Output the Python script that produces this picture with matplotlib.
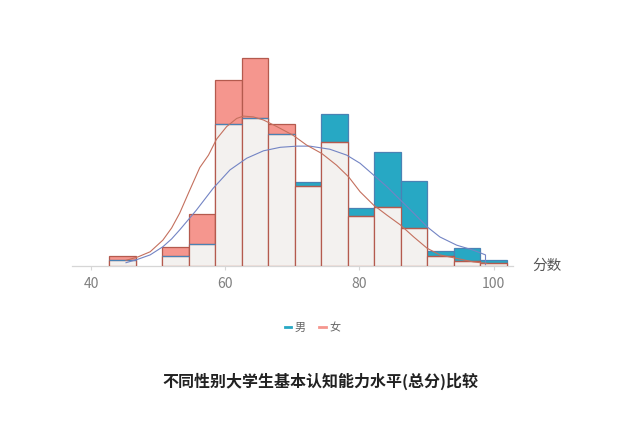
import numpy as np
import matplotlib
matplotlib.use("Agg")
import matplotlib.pyplot as plt
from matplotlib.lines import Line2D

plt.rcParams['font.family'] = ['Noto Sans CJK SC', 'DejaVu Sans']

# ---- data (density histograms, 15 equal bins) ----
bin_start = 42.7
bin_width = 3.95
series_names = ["男", "女"]
male_density = [0.0015, 0.0, 0.0026, 0.0055, 0.0363, 0.0380, 0.0337, 0.0216,
                0.0389, 0.0149, 0.0291, 0.0217, 0.0037, 0.0045, 0.0015]
female_density = [0.0026, 0.0, 0.0049, 0.0133, 0.0477, 0.0533, 0.0364, 0.0206,
                  0.0317, 0.0129, 0.0152, 0.0098, 0.0024, 0.0012, 0.0006]

# density curves
female_kde_x = [45.2, 47.0, 48.8, 50.7, 52.0, 53.2, 54.7, 56.2, 57.5, 58.7, 60.2,
                61.7, 62.7, 64.2, 65.7, 67.7, 70.1, 72.1, 74.4, 76.6, 78.4, 80.1,
                82.1, 84.1, 86.1, 88.1, 90.1, 92.0, 94.5, 97.0, 99.0]
female_kde_y = [0.0014, 0.0023, 0.0036, 0.0066, 0.0097, 0.0135, 0.0194, 0.0252,
                0.0284, 0.0325, 0.0357, 0.0378, 0.0384, 0.0382, 0.0374, 0.0357,
                0.0335, 0.0310, 0.0288, 0.0258, 0.0228, 0.0190, 0.0156, 0.0130,
                0.0105, 0.0074, 0.0045, 0.0028, 0.0019, 0.0010, 0.0006]
male_kde_x = [45.2, 47.0, 48.8, 50.7, 52.0, 53.2, 55.7, 58.2, 60.7, 63.2, 65.7,
              68.2, 70.7, 72.6, 75.6, 78.1, 80.1, 82.1, 84.1, 86.1, 88.1, 90.1,
              92.0, 94.5, 97.0, 98.8, 98.8]
male_kde_y = [0.0008, 0.0017, 0.0028, 0.0049, 0.0069, 0.0092, 0.0143, 0.0199,
              0.0246, 0.0276, 0.0295, 0.0304, 0.0307, 0.0307, 0.0299, 0.0284,
              0.0263, 0.0233, 0.0203, 0.0169, 0.0135, 0.0100, 0.0074, 0.0053,
              0.0040, 0.0028, 0.0003]

x_ticks = [40, 60, 80, 100]
x_label = "分数"
title = "不同性别大学生基本认知能力水平(总分)比较"

# ---- styles ----
male_fill, male_edge, male_line = "#27A8C4", "#4A82B4", "#7384C4"
female_fill, female_edge, female_line = "#F5968E", "#B45A4E", "#C4705E"
overlap_fill = "#F3F1EF"

fig = plt.figure(figsize=(6.25, 4.23), dpi=100)
ax = fig.add_axes([0.1147, 0.3716, 0.7061, 0.5161])

m = np.array(male_density)
f = np.array(female_density)
edges = bin_start + bin_width * np.arange(len(m) + 1)
lefts = edges[:-1]
lw = 0.9

for i in range(len(m)):
    hm, hf = m[i], f[i]
    if hm == 0 and hf == 0:
        continue
    if hm >= hf:
        ax.bar(lefts[i], hm, width=bin_width, align='edge', color=male_fill,
               edgecolor=male_edge, linewidth=lw, zorder=2)
        small, small_col = hf, female_edge
    else:
        ax.bar(lefts[i], hf, width=bin_width, align='edge', color=female_fill,
               edgecolor=female_edge, linewidth=lw, zorder=2)
        small, small_col = hm, male_edge
    if small > 0:
        ax.bar(lefts[i], small, width=bin_width, align='edge', color=overlap_fill,
               edgecolor=female_edge, linewidth=lw, zorder=3)
        ax.plot([lefts[i], lefts[i] + bin_width], [small, small], color=small_col,
                linewidth=lw, zorder=4, solid_capstyle='butt')

ax.plot(male_kde_x, male_kde_y, color=male_line, linewidth=0.8, zorder=5)
ax.plot(female_kde_x, female_kde_y, color=female_line, linewidth=0.8, zorder=5)

ax.set_xlim(37.1, 102.9)
ax.set_ylim(0, 0.056)
ax.set_xticks(x_ticks)
ax.set_xticklabels([str(t) for t in x_ticks])
ax.set_yticks([])
for s in ["top", "right", "left"]:
    ax.spines[s].set_visible(False)
ax.spines["bottom"].set_color("#D6D6D6")
ax.spines["bottom"].set_linewidth(0.9)
ax.tick_params(axis='x', length=3, color="#D6D6D6", labelsize=10,
               labelcolor="#808080", pad=5)

fig.text(0.851, 1 - 265.7 / 423, x_label, fontsize=10.5, color="#555555",
         ha='left', va='center')

handles = [Line2D([0], [0], color=male_fill, lw=2),
           Line2D([0], [0], color=female_fill, lw=2)]
fig.legend(handles, series_names, loc='center', bbox_to_anchor=(0.50, 1 - 328 / 423),
           ncol=2, frameon=False, fontsize=8, handlelength=0.6,
           handletextpad=0.3, columnspacing=1.2, labelcolor="#666666")

fig.text(0.513, 1 - 381.5 / 423, title, fontsize=11.5, fontweight='bold',
         color="#222222", ha='center', va='center')

fig.savefig("out.png", dpi=100, facecolor="white")
